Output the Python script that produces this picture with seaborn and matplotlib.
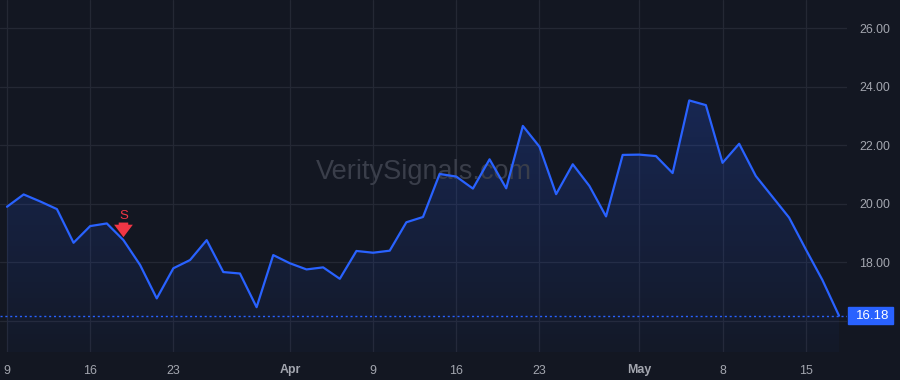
import numpy as np
import pandas as pd
import matplotlib
matplotlib.use("Agg")
import matplotlib.pyplot as plt
import matplotlib.transforms as mtransforms
from matplotlib.colors import LinearSegmentedColormap
import seaborn as sns

# ---------------- data ----------------
start_date = "2026-03-09"
end_date = "2026-05-19"
holidays = ["2026-04-03"]
values = [19.90, 20.32, 20.08, 19.82, 18.67, 19.24, 19.33, 18.76, 17.91, 16.77,
          17.80, 18.08, 18.76, 17.67, 17.62, 16.47, 18.25, 17.97, 17.76, 17.83,
          17.44, 18.39, 18.33, 18.40, 19.37, 19.55, 21.02, 20.93, 20.52, 21.52,
          20.53, 22.66, 21.95, 20.33, 21.35, 20.61, 19.57, 21.67, 21.68, 21.63,
          21.05, 23.53, 23.37, 21.40, 22.05, 20.95, 20.24, 19.53, 18.45, 17.40,
          16.18]
tick_dates = ["2026-03-09", "2026-03-16", "2026-03-23", "2026-04-01", "2026-04-09",
              "2026-04-16", "2026-04-23", "2026-05-01", "2026-05-08", "2026-05-15"]
tick_labels = ["9", "16", "23", "Apr", "9", "16", "23", "May", "8", "15"]
bold_labels = ["Apr", "May"]
y_ticks = [16, 18, 20, 22, 24, 26]
signal_date = "2026-03-18"
signal_label = "S"
last_price = 16.18
watermark = "VeritySignals.com"

# ---------------- build frame ----------------
dates = pd.bdate_range(start_date, end_date)
dates = dates[~dates.isin(pd.to_datetime(holidays))]
df = pd.DataFrame({"date": dates, "price": values})
df["idx"] = np.arange(len(df))
pos_of = {d: i for i, d in enumerate(df["date"])}
tick_pos = [pos_of[pd.Timestamp(d)] for d in tick_dates]
sig_i = pos_of[pd.Timestamp(signal_date)]

# ---------------- style ----------------
BG = "#131722"
GRID = "#242834"
LINE = "#2962ff"
TXT = "#a3a6af"
RED = "#f23645"

sns.set_theme(style="dark")
plt.rcParams["font.family"] = ["Liberation Sans", "DejaVu Sans"]

fig = plt.figure(figsize=(9, 3.8), dpi=100, facecolor=BG)
ax = fig.add_axes([0.0, 28 / 380, 847 / 900, 352 / 380])
ax.set_facecolor(BG)

ymin, ymax = 14.94, 26.96
xmin, xmax = -0.42, 50.48
ax.set_xlim(xmin, xmax)
ax.set_ylim(ymin, ymax)

# gradient fill under line
poly = ax.fill_between(df["idx"], df["price"], ymin, color="none", lw=0)
cmap = LinearSegmentedColormap.from_list(
    "g", [(0.16, 0.38, 1.0, 0.03), (0.16, 0.38, 1.0, 0.22)])
top = max(values)
grad = np.linspace(0, 1, 256).reshape(-1, 1)
im = ax.imshow(grad, cmap=cmap, origin="lower", aspect="auto",
               extent=[xmin, xmax, ymin, top], zorder=1)
path = poly.get_paths()[0]
im.set_clip_path(path, transform=ax.transData)

# watermark
ax.text(0.5, 0.51, watermark, transform=ax.transAxes, ha="center", va="center",
        fontsize=19.5, color="#3a3e4a", zorder=2)

# main line
sns.lineplot(data=df, x="idx", y="price", ax=ax, color=LINE, lw=1.6, zorder=4)

# last price dotted line
ax.axhline(last_price, color=LINE, lw=1.0, ls=(0, (1.5, 2.0)), zorder=3)

# grid
ax.set_xticks(tick_pos)
ax.set_yticks(y_ticks)
ax.grid(True, color=GRID, lw=0.9, zorder=0)
ax.set_axisbelow(True)
for s in ax.spines.values():
    s.set_visible(False)

ax.set_xticklabels(tick_labels)
for lab in ax.get_xticklabels():
    if lab.get_text() in bold_labels:
        lab.set_fontweight("bold")
ax.tick_params(axis="x", length=0, pad=9, labelsize=8.9, colors=TXT)
ax.yaxis.tick_right()
ax.set_yticklabels([f"{v:.2f}" for v in y_ticks])
ax.tick_params(axis="y", length=0, pad=9, labelsize=8.9, colors=TXT)
ax.set_xlabel("")
ax.set_ylabel("")

# signal marker
sig_y = values[sig_i]
ax.annotate("", xy=(sig_i, sig_y + 0.10), xytext=(sig_i, sig_y + 0.60),
            arrowprops=dict(arrowstyle="simple,head_length=0.5,head_width=0.75,tail_width=0.38",
                            color=RED, lw=0, shrinkA=0, shrinkB=0, mutation_scale=18),
            zorder=5)
ax.text(sig_i, sig_y + 0.72, signal_label, ha="center", va="baseline", fontsize=9.5,
        color=RED, zorder=5)

# last price tag
trans = mtransforms.blended_transform_factory(ax.transAxes, ax.transData)
ax.add_patch(plt.Rectangle((848 / 847, last_price - 0.29), 45 / 847, 0.58,
                           transform=trans, color=LINE, clip_on=False, zorder=6))
ax.text(856 / 847, last_price, f"{last_price:.2f}", transform=trans, ha="left",
        va="center", fontsize=9.5, color="white", clip_on=False, zorder=7)

fig.savefig("out.png", dpi=100, facecolor=BG)
